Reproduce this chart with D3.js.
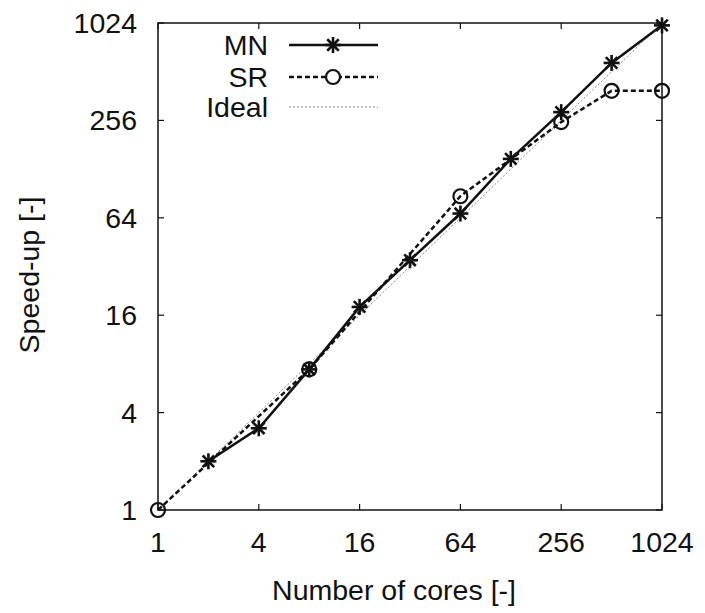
<!DOCTYPE html>
<html>
<head>
<meta charset="utf-8">
<script src="https://cdn.jsdelivr.net/npm/d3@7"></script>
<style>
  body { margin: 0; background: #fff; }
  svg text { font-family: 'Liberation Sans', Arial, Helvetica, sans-serif; fill: #111; }
</style>
</head>
<body>
<div id="chart"></div>
<script>
// data
const tickValues = [1, 4, 16, 64, 256, 1024]

const mnCores = [2, 4, 8, 16, 32, 64, 128, 256, 512, 1024]
const mnSpeedup = [2.0, 3.2, 7.4, 18, 35, 68, 148, 288, 580, 990]

const srCores = [1, 8, 64, 256, 512, 1024]
const srSpeedup = [1, 7.4, 87, 250, 390, 390]

const idealCores = [1, 1024]
const idealSpeedup = [1, 1024]

const seriesNames = ['MN', 'SR', 'Ideal']

const width = 705
const height = 613
const margin = { top: 23, left: 158, right: 43, bottom: 103 }
const innerW = width - margin.left - margin.right
const innerH = height - margin.top - margin.bottom
const fontSize = '28.5px'

const svg = d3
  .select('#chart')
  .append('svg')
  .attr('width', width)
  .attr('height', height)

const g = svg
  .append('g')
  .attr('transform', 'translate(' + margin.left + ',' + margin.top + ')')

const x = d3.scaleLog().base(2).domain([1, 1024]).range([0, innerW])
const y = d3.scaleLog().base(2).domain([1, 1024]).range([innerH, 0])

// ticks on all four sides, pointing inward
const tickLen = 6
function ticks(cls, data, x1, x2, y1, y2) {
  g.selectAll('.' + cls)
    .data(data)
    .enter()
    .append('line')
    .attr('class', cls)
    .attr('x1', x1)
    .attr('x2', x2)
    .attr('y1', y1)
    .attr('y2', y2)
    .attr('stroke', '#111')
    .attr('stroke-width', 1.2)
}
ticks('xtick-b', tickValues, d => x(d), d => x(d), innerH, innerH - tickLen)
ticks('xtick-t', tickValues, d => x(d), d => x(d), 0, tickLen)
ticks('ytick-l', tickValues, 0, tickLen, d => y(d), d => y(d))
ticks('ytick-r', tickValues, innerW, innerW - tickLen, d => y(d), d => y(d))

// tick labels
g.selectAll('.xlabel')
  .data(tickValues)
  .enter()
  .append('text')
  .attr('x', d => x(d))
  .attr('y', innerH + 42)
  .attr('text-anchor', 'middle')
  .style('font-size', fontSize)
  .text(d => d)
g.selectAll('.ylabel')
  .data(tickValues)
  .enter()
  .append('text')
  .attr('x', -21)
  .attr('y', d => y(d) + 10)
  .attr('text-anchor', 'end')
  .style('font-size', fontSize)
  .text(d => d)

// border
g.append('rect')
  .attr('width', innerW)
  .attr('height', innerH)
  .attr('fill', 'none')
  .attr('stroke', '#111')
  .attr('stroke-width', 1.5)

// axis titles
svg
  .append('text')
  .attr('x', 394)
  .attr('y', 600)
  .attr('text-anchor', 'middle')
  .style('font-size', fontSize)
  .text('Number of cores [-]')
svg
  .append('text')
  .attr('transform', 'translate(39,275) rotate(-90)')
  .attr('text-anchor', 'middle')
  .style('font-size', fontSize)
  .text('Speed-up [-]')

const line = d3
  .line()
  .x(d => x(d[0]))
  .y(d => y(d[1]))

const idealData = d3.zip(idealCores, idealSpeedup)
const mnData = d3.zip(mnCores, mnSpeedup)
const srData = d3.zip(srCores, srSpeedup)

g.append('path')
  .datum(idealData)
  .attr('d', line)
  .attr('fill', 'none')
  .attr('stroke', '#8a8a8a')
  .attr('stroke-width', 1)
  .attr('stroke-dasharray', '2,2')

g.append('path')
  .datum(srData)
  .attr('d', line)
  .attr('fill', 'none')
  .attr('stroke', '#111')
  .attr('stroke-width', 2.5)
  .attr('stroke-dasharray', '5,3')

g.append('path')
  .datum(mnData)
  .attr('d', line)
  .attr('fill', 'none')
  .attr('stroke', '#111')
  .attr('stroke-width', 2.5)

function star(sel, r) {
  const a = r * 0.72
  sel.append('line').attr('x1', -r).attr('x2', r).attr('y1', 0).attr('y2', 0)
  sel.append('line').attr('x1', 0).attr('x2', 0).attr('y1', -r).attr('y2', r)
  sel.append('line').attr('x1', -a).attr('x2', a).attr('y1', -a).attr('y2', a)
  sel.append('line').attr('x1', -a).attr('x2', a).attr('y1', a).attr('y2', -a)
  sel.attr('stroke', '#111').attr('stroke-width', 2.6)
}

g.selectAll('.sr-pt')
  .data(srData)
  .enter()
  .append('circle')
  .attr('cx', d => x(d[0]))
  .attr('cy', d => y(d[1]))
  .attr('r', 7)
  .attr('fill', 'none')
  .attr('stroke', '#111')
  .attr('stroke-width', 2.2)

g.selectAll('.mn-pt')
  .data(mnData)
  .enter()
  .append('g')
  .attr('transform', d => 'translate(' + x(d[0]) + ',' + y(d[1]) + ')')
  .each(function() {
    star(d3.select(this), 8)
  })

// legend
const legendY = [45, 77, 107]
const legend = svg.append('g')
seriesNames.forEach(function(name, i) {
  legend
    .append('text')
    .attr('x', 268)
    .attr('y', legendY[i] + 10)
    .attr('text-anchor', 'end')
    .style('font-size', fontSize)
    .text(name)
})
legend
  .append('line')
  .attr('x1', 289)
  .attr('x2', 378)
  .attr('y1', legendY[0])
  .attr('y2', legendY[0])
  .attr('stroke', '#111')
  .attr('stroke-width', 2.5)
legend
  .append('g')
  .attr('transform', 'translate(333,' + legendY[0] + ')')
  .call(star, 8)
legend
  .append('line')
  .attr('x1', 289)
  .attr('x2', 378)
  .attr('y1', legendY[1])
  .attr('y2', legendY[1])
  .attr('stroke', '#111')
  .attr('stroke-width', 2.5)
  .attr('stroke-dasharray', '5,3')
legend
  .append('circle')
  .attr('cx', 333)
  .attr('cy', legendY[1])
  .attr('r', 7)
  .attr('fill', '#fff')
  .attr('stroke', '#111')
  .attr('stroke-width', 2.2)
legend
  .append('line')
  .attr('x1', 289)
  .attr('x2', 378)
  .attr('y1', legendY[2])
  .attr('y2', legendY[2])
  .attr('stroke', '#8a8a8a')
  .attr('stroke-width', 1)
  .attr('stroke-dasharray', '2,2')
</script>
</body>
</html>
